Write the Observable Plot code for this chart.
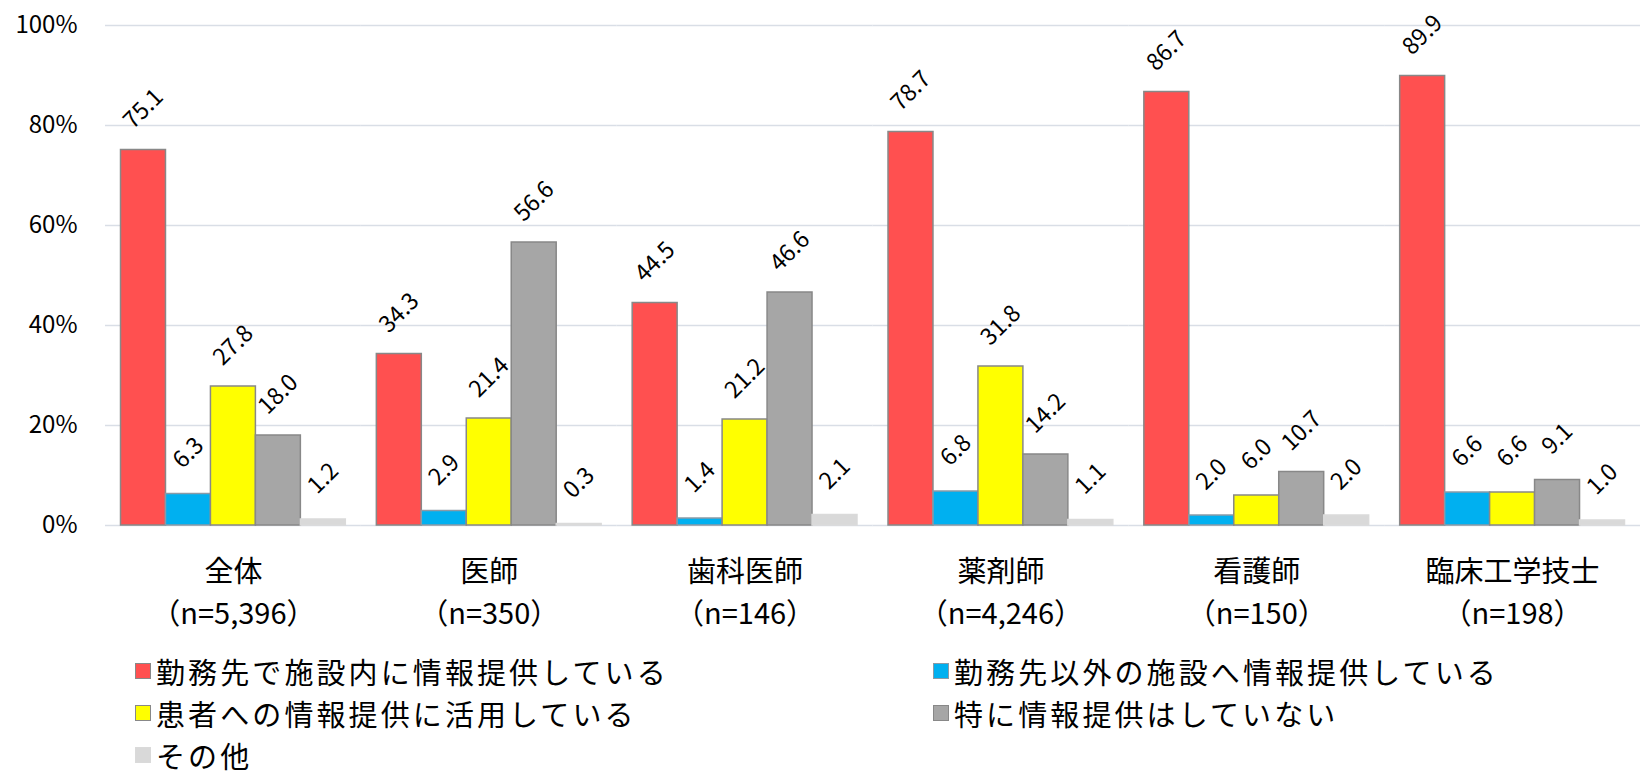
<!DOCTYPE html>
<html lang="ja">
<head>
<meta charset="utf-8">
<script src="https://cdn.jsdelivr.net/npm/d3@7"></script>
<script src="https://cdn.jsdelivr.net/npm/@observablehq/plot@0.6"></script>
<style>
  html, body { margin: 0; padding: 0; background: #fff; }
  body { width: 1640px; font-family: "Noto Sans CJK JP", "Noto Sans", sans-serif; }
  #legend {
    display: grid;
    grid-template-columns: 798px auto;
    grid-auto-rows: 42px;
    padding-left: 135px;
    margin-top: 10px;
    font-size: 29px;
    line-height: 1;
    letter-spacing: 3.1px;
    color: #000;
  }
  .item { display: flex; align-items: center; white-space: nowrap; }
  .sw { width: 14px; height: 14px; border: 1.5px solid #888; margin-right: 5px; flex: none; }
</style>
</head>
<body>
<div id="chart"></div>
<div id="legend"></div>
<script>
const categories = ["全体", "医師", "歯科医師", "薬剤師", "看護師", "臨床工学技士"];
const nCounts = ["5,396", "350", "146", "4,246", "150", "198"];
const series = [
  "勤務先で施設内に情報提供している",
  "勤務先以外の施設へ情報提供している",
  "患者への情報提供に活用している",
  "特に情報提供はしていない",
  "その他"
];
const colors = ["#FF5050", "#00B0F0", "#FFFF00", "#A6A6A6", "#D9D9D9"];
const strokes = ["#888888", "#8a9aa6", "#888888", "#888888", "#DADADA"];
const valsInternal = [75.1, 34.3, 44.5, 78.7, 86.7, 89.9];
const valsExternal = [6.3, 2.9, 1.4, 6.8, 2.0, 6.6];
const valsPatient = [27.8, 21.4, 21.2, 31.8, 6.0, 6.6];
const valsNone = [18.0, 56.6, 46.6, 14.2, 10.7, 9.1];
const valsOther = [1.2, 0.3, 2.1, 1.1, 2.0, 1.0];
const yTicks = [0, 20, 40, 60, 80, 100];

const seriesValues = [valsInternal, valsExternal, valsPatient, valsNone, valsOther];
const data = [];
categories.forEach((c, i) => {
  series.forEach((s, j) => {
    data.push({category: c, series: s, value: seriesValues[j][i], stroke: strokes[j]});
  });
});
const nByCat = new Map(categories.map((c, i) => [c, nCounts[i]]));

const chart = Plot.plot({
  width: 1640,
  height: 640,
  marginTop: 25,
  marginBottom: 115,
  marginLeft: 105,
  marginRight: 0,
  style: {fontFamily: '"Noto Sans CJK JP", "Noto Sans", sans-serif', color: "#000", background: "#fff"},
  fx: {domain: categories, padding: 0, round: false, label: null},
  x: {domain: series, paddingInner: 0, paddingOuter: 0.345, round: false, axis: null},
  y: {domain: [0, 100], label: null},
  color: {domain: series, range: colors},
  marks: [
    Plot.gridY(yTicks, {stroke: "#D9DEE6", strokeOpacity: 1, strokeWidth: 1.5}),
    Plot.axisY({ticks: yTicks, tickFormat: d => d + "%", tickSize: 0, tickPadding: 28, fontSize: 24, label: null}),
    Plot.axisFx({
      anchor: "bottom", tickSize: 0, tickPadding: 26, fontSize: 29, lineHeight: 1.47, label: null,
      tickFormat: d => `${d}\n（n=${nByCat.get(d)}）`
    }),
    Plot.barY(data, {
      fx: "category", x: "series", y: "value", fill: "series",
      stroke: "stroke", strokeWidth: 1.5, inset: 0
    }),
    Plot.text(data, {
      fx: "category", x: "series", y: "value",
      text: d => d.value.toFixed(1), rotate: -45, dy: -41,
      fontSize: 23, fill: "#000", textAnchor: "middle", lineAnchor: "middle"
    })
  ]
});
document.getElementById("chart").appendChild(chart);

const legend = document.getElementById("legend");
series.forEach((s, j) => {
  const item = document.createElement("div");
  item.className = "item";
  const sw = document.createElement("span");
  sw.className = "sw";
  sw.style.background = colors[j];
  sw.style.borderColor = strokes[j];
  const label = document.createElement("span");
  label.textContent = s;
  item.appendChild(sw);
  item.appendChild(label);
  legend.appendChild(item);
});
</script>
</body>
</html>
